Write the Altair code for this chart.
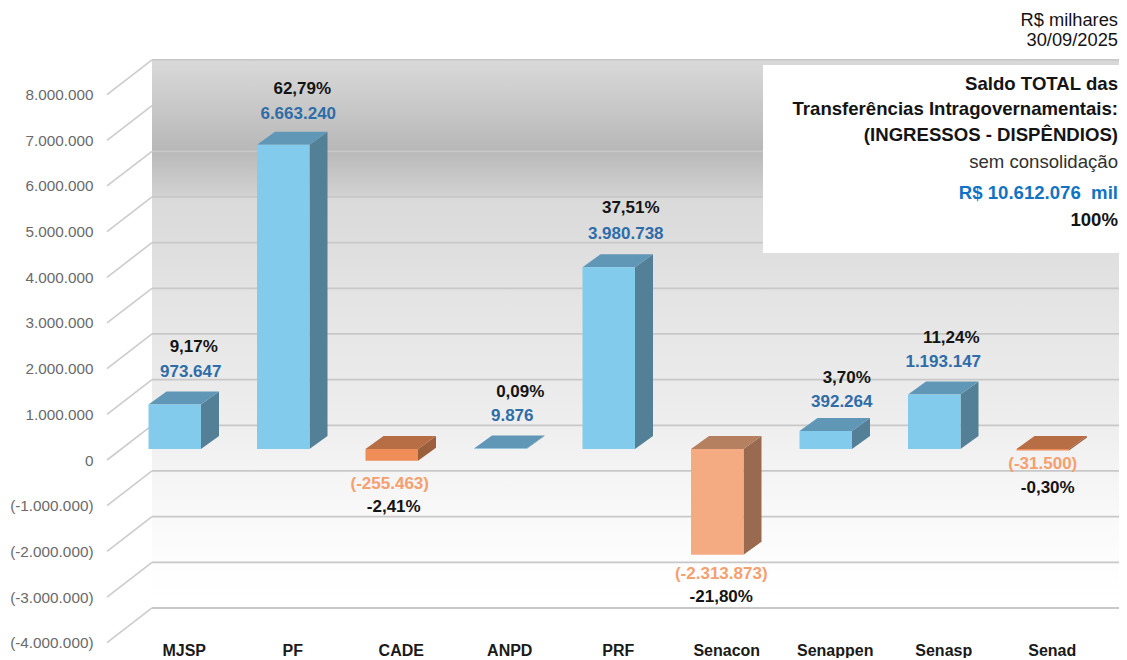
import altair as alt
import pandas as pd

# ---- data ----
categories = ["MJSP", "PF", "CADE", "ANPD", "PRF", "Senacon", "Senappen", "Senasp", "Senad"]
values = [973647, 6663240, -255463, 9876, 3980738, -2313873, 392264, 1193147, -31500]
value_labels = ["973.647", "6.663.240", "(-255.463)", "9.876", "3.980.738", "(-2.313.873)", "392.264", "1.193.147", "(-31.500)"]
pct_labels = ["9,17%", "62,79%", "-2,41%", "0,09%", "37,51%", "-21,80%", "3,70%", "11,24%", "-0,30%"]
ticks = [8000000, 7000000, 6000000, 5000000, 4000000, 3000000, 2000000, 1000000, 0,
         -1000000, -2000000, -3000000, -4000000]
tick_labels = ["8.000.000", "7.000.000", "6.000.000", "5.000.000", "4.000.000", "3.000.000", "2.000.000",
               "1.000.000", "0", "(-1.000.000)", "(-2.000.000)", "(-3.000.000)", "(-4.000.000)"]
header_lines = ["R$ milhares", "30/09/2025"]
box_lines = ["Saldo TOTAL das", "Transferências Intragovernamentais:", "(INGRESSOS - DISPÊNDIOS)",
             "sem consolidação", "R$ 10.612.076\u00a0\u00a0mil", "100%"]

# ---- layout ----
FONT = "Liberation Sans"
PX_X = 108.5            # px per category
PX_Y = 45.67 / 1e6      # px per unit
RIGHT = 1119
ORIGIN_X = 174.75
X_DOMAIN = [(100 - ORIGIN_X) / PX_X, (RIGHT - ORIGIN_X) / PX_X]
Y_DOMAIN = [(449 - 642) / PX_Y, (449 - 8) / PX_Y]
HALF = 26.25 / PX_X
BAR_DX, BAR_DY = 18 / PX_X, 13 / PX_Y
BACK_DX, BACK_DY = -22.75 / PX_X, 23.7 / PX_Y   # back wall relative to the bar front
FRONT_DX, FRONT_DY = -67.75 / PX_X, -11 / PX_Y  # left end of the side-wall lines

# label nudges (px), relative to the bar's front centre and end
V_DX = [16, 15, -2, 12, 17, 4, 16, 9, 0]
V_DY = [-33, -31, 23, -33, -33, 19, -29, -33, 14]
P_DX = [3, 4, 4, 8, 5, 0, 5, 8, 5]
P_DY = [-25, -25, 23, -24, -26, 23, -24, -24, 24]

BLUE = ("#82cbec", "#6097b6", "#538097")
ORANGE = {"CADE": ("#f08c58", "#b86e45", "#9c5f3d"),
          "Senacon": ("#f4ab82", "#b48060", "#9a6a50"),
          "Senad": ("#f08c58", "#b86e45", "#9c5f3d")}

x_scale = alt.Scale(domain=X_DOMAIN, nice=False, zero=False)
y_scale = alt.Scale(domain=Y_DOMAIN, nice=False, zero=False)
x_axis = alt.Axis(
    values=list(range(len(categories))),
    labelExpr="[" + ",".join(f"'{c}'" for c in categories) + "][datum.value]",
    labelOffset=9, labelFont=FONT, labelFontSize=16, labelFontWeight="bold", labelColor="#1a1a1a",
    labelPadding=0, ticks=False, domain=False, grid=False, labelOverlap=False, labelFlush=False, title=None)
y_axis = alt.Axis(
    values=ticks,
    labelExpr="[" + ",".join(f"'{t}'" for t in tick_labels) + "][(8000000 - datum.value) / 1000000]",
    labelOffset=11, labelFont=FONT, labelFontSize=15.3, labelColor="#6a6a6a",
    labelPadding=7, ticks=False, domain=False, grid=False, labelOverlap=False, labelFlush=False, title=None)
X = lambda f: alt.X(f, type="quantitative", scale=x_scale, axis=x_axis, stack=None)
Y = lambda f: alt.Y(f, type="quantitative", scale=y_scale, axis=y_axis, stack=None)

# ---- tables ----
front, tops, sides, labels = [], [], [], []
for i, (c, v) in enumerate(zip(categories, values)):
    hi, lo = max(v, 0), min(v, 0)
    f, t, s = ORANGE.get(c, BLUE)
    x0, x1 = i - HALF, i + HALF
    front.append(dict(x=x0, x2=x1, y=lo, y2=hi, col=f))
    tops += [dict(id=c, y=hi, x=x0, x2=x1, col=t),
             dict(id=c, y=hi + BAR_DY, x=x0 + BAR_DX, x2=x1 + BAR_DX, col=t)]
    sides += [dict(id=c, x=x1, y=lo, y2=hi, col=s),
              dict(id=c, x=x1 + BAR_DX, y=lo + BAR_DY, y2=hi + BAR_DY, col=s)]
    end = hi if v >= 0 else lo
    vx, vy = i + V_DX[i] / PX_X, end - V_DY[i] / PX_Y
    labels.append(dict(x=vx, y=vy, px=vx + P_DX[i] / PX_X, py=vy - P_DY[i] / PX_Y,
                       val=value_labels[i], pct=pct_labels[i],
                       col="#2e6da8" if v >= 0 else "#f4a06f"))

grid = pd.DataFrame([dict(y=t + BACK_DY, xb=BACK_DX, xr=X_DOMAIN[1],
                          xf=FRONT_DX, yf=t + FRONT_DY) for t in ticks])

# ---- layers ----
stops = [(60, "#d9d9d9"), (105, "#c9c9c9"), (150, "#b8b8b8"), (153, "#bababa"), (196, "#d2d2d2"), (198, "#dadada"),
         (243, "#dedede"), (300, "#e4e4e4"), (425, "#eeeeee"), (471, "#f4f4f4"), (517, "#f9f9f9"), (562, "#fdfdfd"),
         (600, "#ffffff"), (608, "#ffffff")]
wall_fill = alt.LinearGradient(
    gradient="linear", x1=0, x2=0, y1=0, y2=1,
    stops=[alt.GradientStop(offset=(p - 60) / 548, color=c) for p, c in stops])
wall = alt.Chart(pd.DataFrame([dict(x=BACK_DX, x2=X_DOMAIN[1], y=ticks[0] + BACK_DY, y2=ticks[-1] + BACK_DY)])).mark_rect(
    fill=wall_fill
).encode(x=X("x"), x2="x2", y=Y("y"), y2="y2")

grid_lines = alt.Chart(grid).mark_rule(color="#c8c8c8", strokeWidth=1.8).encode(x=X("xb"), x2="xr", y=Y("y"))
diagonals = alt.Chart(grid).mark_rule(color="#cccccc", strokeWidth=1.6).encode(x=X("xf"), x2="xb", y=Y("yf"), y2="y")

col = alt.Color("col:N", scale=None, legend=None)
top_faces = alt.Chart(pd.DataFrame(tops)).mark_area(orient="horizontal").encode(
    y=Y("y"), x=X("x"), x2="x2", color=col, detail="id:N")
side_faces = alt.Chart(pd.DataFrame(sides)).mark_area(orient="vertical").encode(
    x=X("x"), y=Y("y"), y2="y2", color=col, detail="id:N")
front_faces = alt.Chart(pd.DataFrame(front)).mark_rect().encode(
    x=X("x"), x2="x2", y=Y("y"), y2="y2", color=col)

lab = pd.DataFrame(labels)
val_text = alt.Chart(lab).mark_text(font=FONT, fontSize=17, fontWeight="bold", baseline="middle").encode(
    x=X("x"), y=Y("y"), text="val:N", color=col)
pct_text = alt.Chart(lab).mark_text(font=FONT, fontSize=17, fontWeight="bold", baseline="middle", color="#141414").encode(
    x=X("px"), y=Y("py"), text="pct:N")

# pixel positions inside the plot area: image px minus its origin (100, 8)
box = alt.Chart(pd.DataFrame({"a": [1]})).mark_rect(color="white").encode(
    x=alt.value(663), x2=alt.value(1019), y=alt.value(57), y2=alt.value(245))

def note(text, right, cy, size, weight="normal", color="#141414"):
    return alt.Chart(pd.DataFrame({"t": [text]})).mark_text(
        font=FONT, fontSize=size, fontWeight=weight, color=color, align="right", baseline="middle"
    ).encode(x=alt.value(right - 100), y=alt.value(cy - 8), text="t:N")

notes = [
    note(header_lines[0], 1118, 21, 18.3),
    note(header_lines[1], 1118, 41, 18.3),
    note(box_lines[0], 1118, 84, 18.6, "bold"),
    note(box_lines[1], 1118, 109, 18.6, "bold"),
    note(box_lines[2], 1118, 135, 18.6, "bold"),
    note(box_lines[3], 1118, 162, 18.6, "normal", "#303030"),
    note(box_lines[4], 1118, 193, 18.6, "bold", "#1273c4"),
    note(box_lines[5], 1118, 220, 18.6, "bold"),
]

chart = alt.layer(
    wall, grid_lines, diagonals, side_faces, top_faces, front_faces, val_text, pct_text, box, *notes
).properties(
    width=RIGHT - 100, height=634,
    padding={"left": 92, "top": 0, "right": 0, "bottom": 16},
    autosize=alt.AutoSizeParams(type="none"),
    background="white",
).configure_view(stroke=None)

chart.save("out.html", embed_options={"renderer": "svg", "actions": False})
